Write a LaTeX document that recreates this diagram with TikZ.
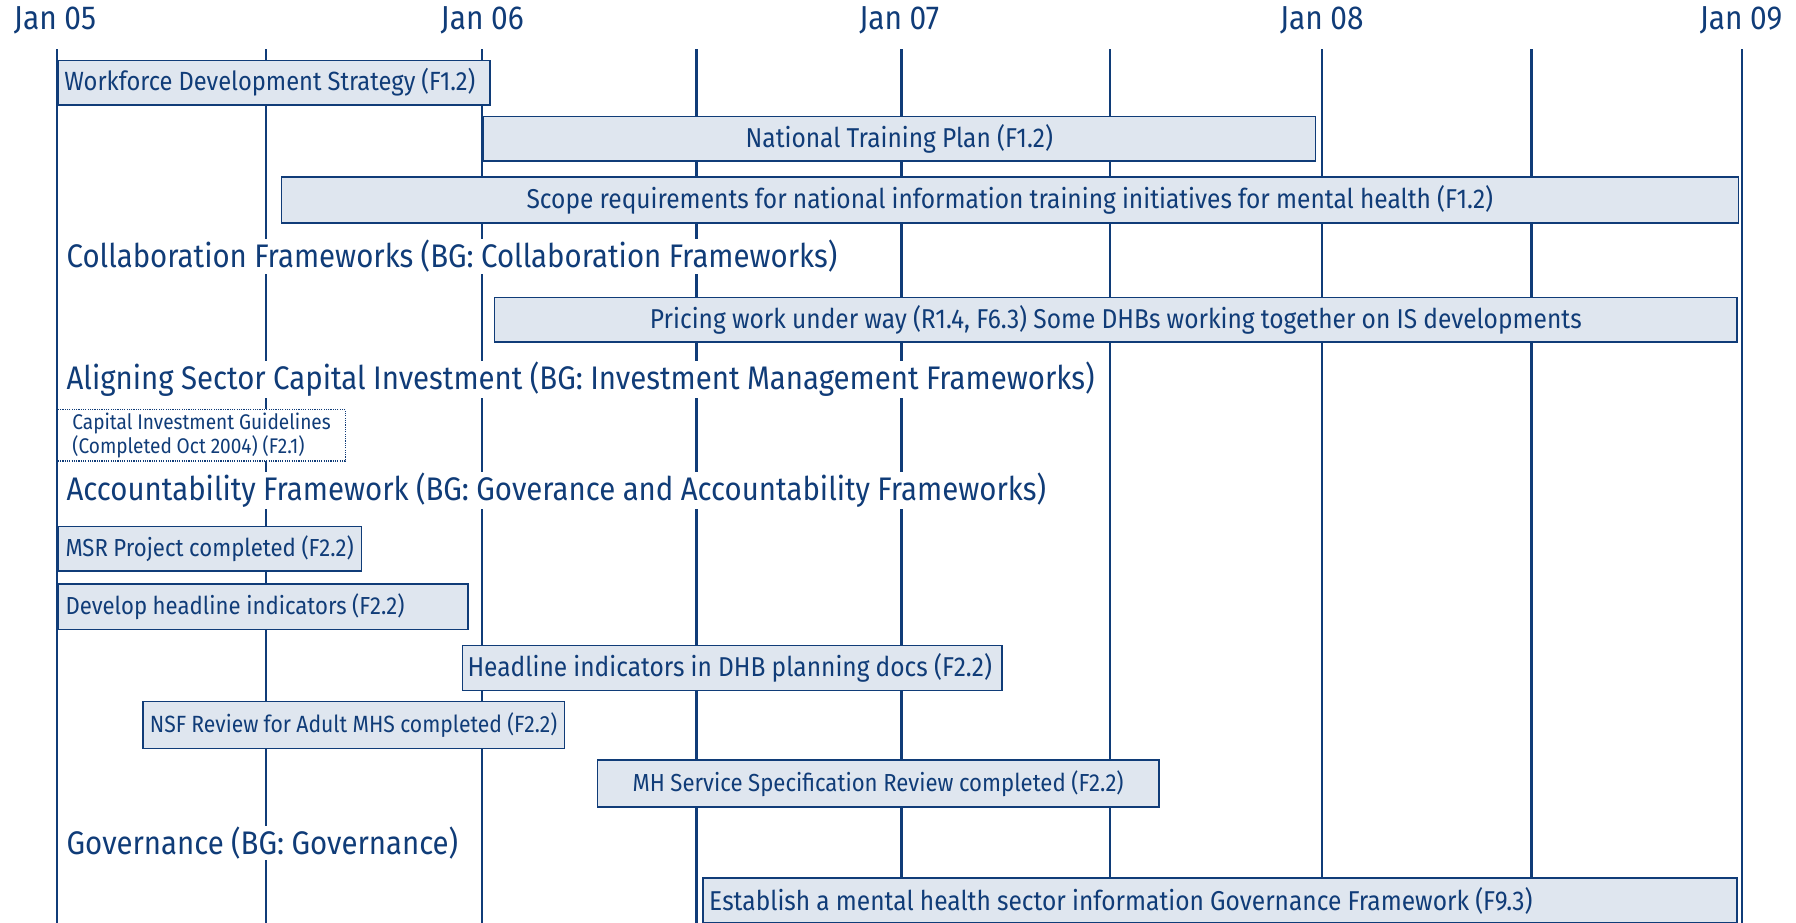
\documentclass[tikz,border=0pt]{standalone}
\usepackage{fontspec}
\setmainfont[FakeStretch=0.9, WordSpace=0.95]{Fira Sans}
\usepackage{xcolor}
\definecolor{LineBlue}{RGB}{16,60,120}
\definecolor{BarFill}{RGB}{223,230,239}
\usepackage{tikz}
\usetikzlibrary{positioning}
\tikzset{
  % Month grid line
  gridline/.style={
    draw=LineBlue,
    line width=2pt
  },
  % Month label on top
  month/.style={
    text=LineBlue,
    inner sep=0pt,
    font=\fontsize{29}{32}\selectfont
  },
  % Task bar (text centred)
  bar/.style={
    draw=LineBlue,
    fill=BarFill,
    line width=1.3pt,
    text=LineBlue,
    anchor=north west,
    inner sep=0pt,
    minimum height=39,
    font=\fontsize{23.8}{27}\selectfont
  },
  % Text sitting on the left of a bar
  bartext/.style={
    text=LineBlue,
    inner sep=0pt,
    font=\fontsize{23.8}{27}\selectfont
  },
  % Smaller bar text
  smalltext/.style={font=\fontsize{21.5}{25}\selectfont},
  % Finished item
  donebox/.style={
    draw=LineBlue,
    densely dotted,
    line width=1pt,
    fill=white,
    text=LineBlue,
    anchor=north west,
    align=left,
    inner sep=0pt,
    minimum width=251,
    minimum height=45,
    font=\fontsize{18.5}{19}\selectfont
  },
  % Section heading
  heading/.style={
    fill=white,
    text=LineBlue,
    anchor=west,
    inner xsep=2,
    inner ysep=1,
    font=\fontsize{28.5}{31}\selectfont
  }
}

\begin{document}
\begin{tikzpicture}[x=1pt, y=-1pt]
  \useasboundingbox (0,0) rectangle (1568,805);
  \clip (0,0) rectangle (1568,805);
  \foreach \x in {50,232,421,608,787,969,1154,1337,1521} {
    \draw[gridline] (\x,43) -- (\x,810);
  }
  \foreach \x/\yr in {48/05,421/06,785/07,1154/08,1520/09} {
    \node[month] (m\yr) at (\x,18) {Jan \yr};
  }

  \node[bar, minimum width=377] (wds) at (50,52) {};
  \node[bartext, font=\fontsize{23}{27}\selectfont, right=6pt of wds.west] (wdstext)
    {Workforce Development Strategy (F1.2)};
  \node[bar, minimum width=727] (ntp) at (421,101) {National Training Plan (F1.2)};
  \node[bar, minimum width=1272, minimum height=40] (scope) at (245,154)
    {Scope requirements for national information training initiatives for mental health (F1.2)};

  \node[heading] (hcollab) at (56,224) {Collaboration Frameworks (BG: Collaboration Frameworks)};
  \node[bar, minimum width=1085] (pricing) at (431,259)
    {Pricing work under way (R1.4, F6.3) Some DHBs working together on IS developments};

  \node[heading] (hcapital) at (56,331) {Aligning Sector Capital Investment (BG: Investment Management Frameworks)};
  \node[donebox] (cig) at (50,357) {Capital Investment Guidelines\\(Completed Oct 2004) (F2.1)};

  \node[heading] (haccount) at (56,428) {Accountability Framework (BG: Goverance and Accountability Frameworks)};
  \node[bar, minimum width=265] (msr) at (50,459) {};
  \node[bartext, smalltext, right=7pt of msr.west] (msrtext) {MSR Project completed (F2.2)};
  \node[bar, minimum width=358, minimum height=40] (dhi) at (50,509) {};
  \node[bartext, smalltext, right=7pt of dhi.west] (dhitext) {Develop headline indicators (F2.2)};
  \node[bar, minimum width=471] (hdp) at (403,563) {};
  \node[bartext, right=5pt of hdp.west] (hdptext) {Headline indicators in DHB planning docs (F2.2)};
  \node[bar, minimum width=368, minimum height=41, font=\fontsize{20.5}{24}\selectfont] (nsf) at (124,612)
    {NSF Review for Adult MHS completed (F2.2)};
  \node[bar, smalltext, minimum width=490, minimum height=41] (mhs) at (521,663)
    {MH Service Specification Review completed (F2.2)};

  \node[heading] (hgovern) at (56,736) {Governance (BG: Governance)};
  \node[bar, minimum width=903] (gov) at (613,766) {};
  \node[bartext, right=6pt of gov.west] (govtext)
    {Establish a mental health sector information Governance Framework (F9.3)};
\end{tikzpicture}
\end{document}
